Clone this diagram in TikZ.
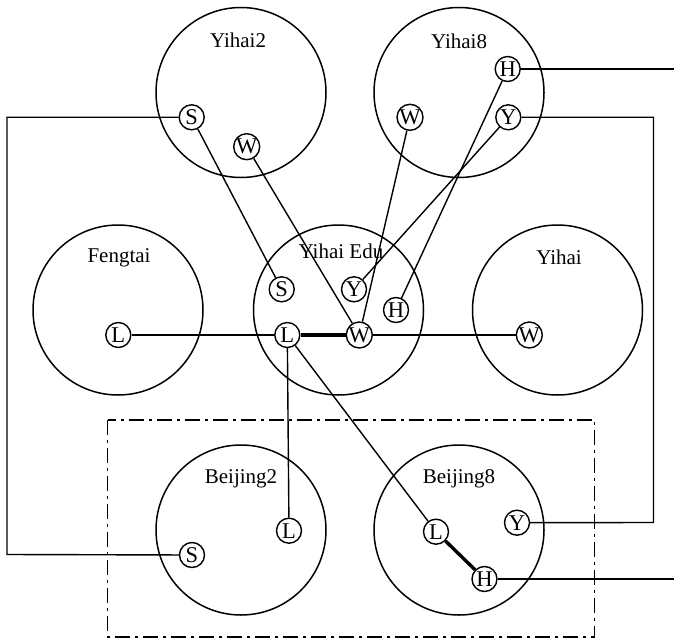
\documentclass[tikz,border=0pt]{standalone}
\usepackage{fontspec}
\setmainfont{Liberation Serif}
\begin{document}
\begin{tikzpicture}[x=1pt,y=-1pt,
  region/.style={circle,draw,line width=1.5pt,minimum size=170pt,inner sep=0pt},
  rlabel/.style={font=\fontsize{21}{21}\selectfont,inner sep=0pt},
  port/.style={circle,draw,line width=1.4pt,fill=white,minimum size=25pt,inner sep=0pt,font=\fontsize{22.5}{22.5}\selectfont},
  link/.style={line width=1.4pt},
  thick link/.style={line width=3.4pt},
  zone/.style={line width=1.4pt,dash pattern=on 15pt off 5pt on 3pt off 5pt}]
\useasboundingbox (0,0) rectangle (674,639);
% regions
\node[region] (yihai2) at (241,92.5) {};
\node[region] (yihai8) at (459,92.5) {};
\node[region] (fengtai) at (118,310) {};
\node[region] (edu) at (338.5,310) {};
\node[region] (yihai) at (557.5,310) {};
\node[region] (bj2) at (241,530) {};
\node[region] (bj8) at (459,530) {};
% labels
\node[rlabel] (lyihai2) at (238,40) {Yihai2};
\node[rlabel] (lyihai8) at (459,41.5) {Yihai8};
\node[rlabel] (lfengtai) at (119,258) {Fengtai};
\node[rlabel] (ledu) at (341,251) {Yihai Edu};
\node[rlabel] (lyihai) at (559,257) {Yihai};
\node[rlabel] (lbj2) at (241,479) {Beijing2};
\node[rlabel] (lbj8) at (459,479) {Beijing8};
% zone
\draw[zone] (107.5,420) rectangle (594.5,637);
% free-end coordinates
\coordinate (cLtop) at (7,117.3);
\coordinate (cLbot) at (7,554.5);
\coordinate (cRtop) at (653.5,117.3);
\coordinate (cRbot) at (653.5,522.5);
\coordinate (cHtop) at (674,69);
\coordinate (cHbot) at (674,579);
% ports
\node[port] (y2S) at (191.7,117.3) {S};
\node[port] (y2W) at (246.7,146.7) {W};
\node[port] (y8H) at (507.7,69) {H};
\node[port] (y8Y) at (508.3,117.3) {Y};
\node[port] (y8W) at (410,117.3) {W};
\node[port] (fL) at (118.3,335) {L};
\node[port] (eS) at (281.7,289.3) {S};
\node[port] (eY) at (354,289.3) {Y};
\node[port] (eH) at (396,310) {H};
\node[port] (eL) at (287.3,335) {L};
\node[port] (eW) at (359.3,335) {W};
\node[port] (yW) at (529.3,335) {W};
\node[port] (b2L) at (289,530.7) {L};
\node[port] (b2S) at (192,555) {S};
\node[port] (b8L) at (436,531.7) {L};
\node[port] (b8Y) at (517,522.7) {Y};
\node[port] (b8H) at (484.5,579) {H};
% links
\draw[link] (y2S) -- (cLtop) -- (cLbot) -- (b2S);
\draw[link] (y2S) -- (eS);
\draw[link] (y2W) -- (eW);
\draw[link] (y8W) -- (eW);
\draw[link] (y8Y) -- (eY);
\draw[link] (y8H) -- (eH);
\draw[link] (y8H) -- (cHtop);
\draw[link] (y8Y) -- (cRtop) -- (cRbot) -- (b8Y);
\draw[link] (fL) -- (eL);
\draw[thick link] (eL) -- (eW);
\draw[link] (eW) -- (yW);
\draw[link] (eL) -- (b2L);
\draw[link] (eL) -- (b8L);
\draw[thick link] (b8L) -- (b8H);
\draw[link] (b8H) -- (cHbot);
\end{tikzpicture}
\end{document}
